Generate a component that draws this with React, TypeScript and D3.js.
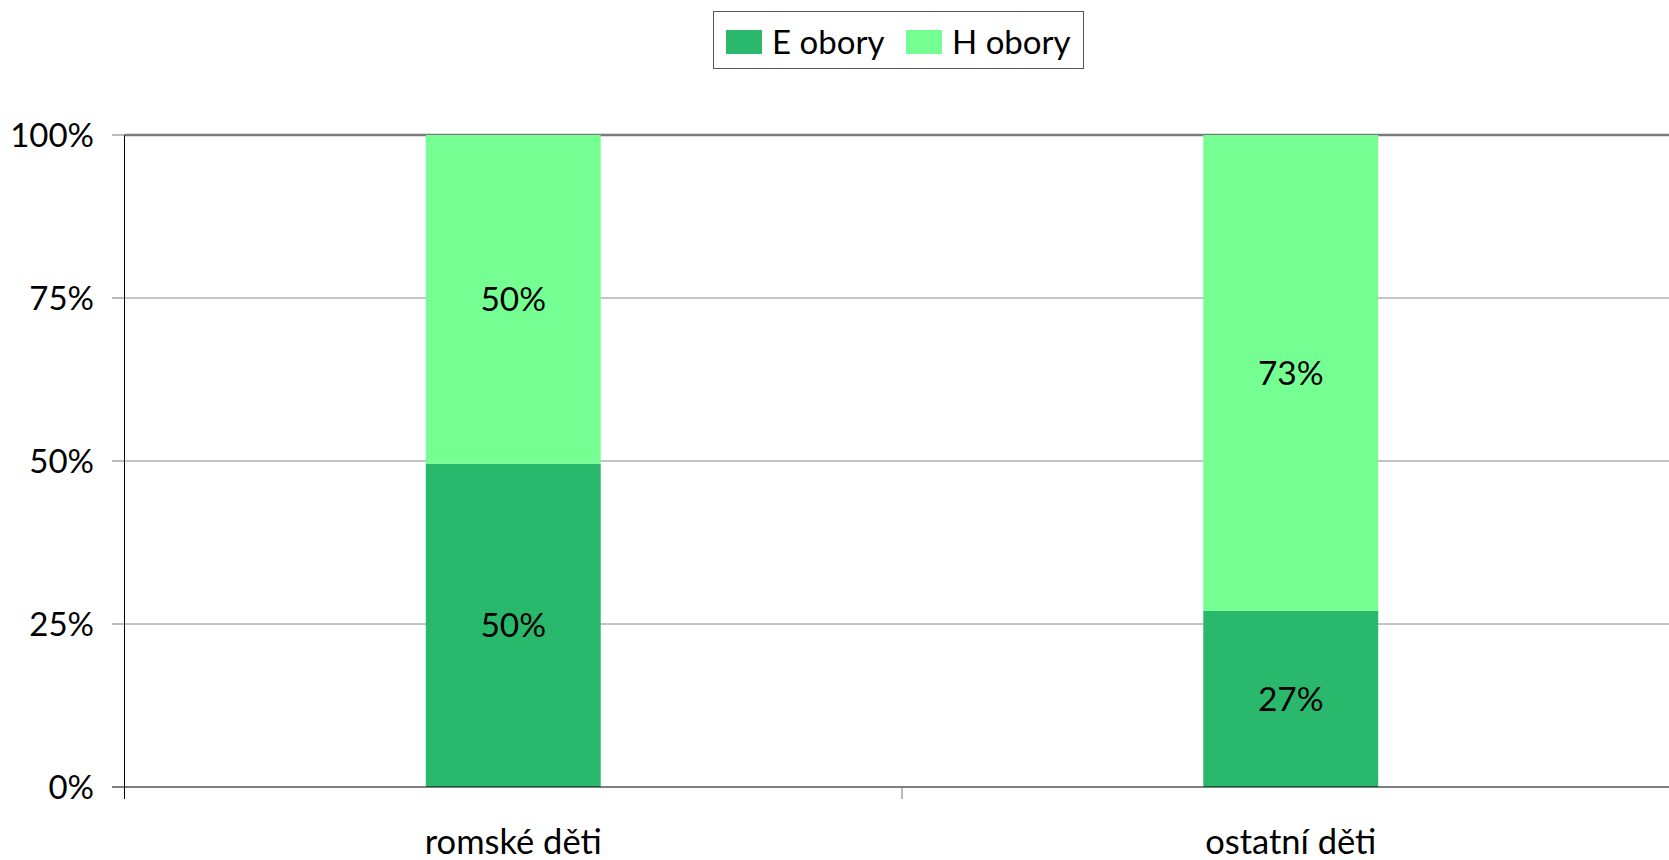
import React from "react";
import * as d3 from "d3";

const categories = ["romské děti", "ostatní děti"];
const seriesNames = ["E obory", "H obory"];
const eValues = [49.6, 27];
const hValues = [50.4, 73];
const yTicks = [0, 25, 50, 75, 100];
const colors = ["#2ab96c", "#75ff93"];

const W = 1669;
const H = 860;
const FONT = "Lato, 'Open Sans', sans-serif";

export default function App() {
  const left = 124.5;
  const top = 135;
  const bottom = 787;
  const x = d3.scaleBand<string>().domain(categories).range([left, left + 2 * 777.5]).padding(0);
  const y = d3.scaleLinear().domain([0, 100]).range([bottom, top]);
  const barW = x.bandwidth() * 0.225;

  const rows = categories.map((c, i) => ({ cat: c, E: eValues[i], H: hValues[i] }));
  const stack = d3.stack<any>().keys(["E", "H"]);
  const layers = stack(rows);

  return (
    <svg width={W} height={H} style={{ position: "absolute", left: 0, top: 0, background: "#fff" }} fontFamily={FONT}>
      {yTicks.filter((t) => t > 0).map((t) => (
        <line key={t} x1={left} x2={W} y1={y(t)} y2={y(t)} stroke={t === 100 ? "#7a7a7a" : "#888"} strokeWidth={t === 100 ? 2.5 : 1} />
      ))}
      {layers.map((layer, li) =>
        layer.map((d, i) => {
          const cx = (x(categories[i]) as number) + x.bandwidth() / 2;
          return (
            <rect key={li + "-" + i} x={cx - barW / 2} y={y(d[1])} width={barW} height={y(d[0]) - y(d[1])} fill={colors[li]} />
          );
        })
      )}
      {layers.map((layer, li) =>
        layer.map((d, i) => {
          const cx = (x(categories[i]) as number) + x.bandwidth() / 2;
          const cy = (y(d[0]) + y(d[1])) / 2;
          const v = Math.round(d[1] - d[0]);
          return (
            <text key={"l" + li + "-" + i} x={cx} y={cy} dy="0.35em" textAnchor="middle" fontSize={33.5} fill="#000">
              {v + "%"}
            </text>
          );
        })
      )}
      <line x1={left} x2={left} y1={top} y2={bottom + 12} stroke="#000" strokeWidth={1} />
      <line x1={left} x2={W} y1={bottom} y2={bottom} stroke="#000" strokeWidth={1.2} />
      {yTicks.map((t) => (
        <g key={"yt" + t}>
          <line x1={112} x2={left} y1={y(t)} y2={y(t)} stroke={t === 0 ? "#000" : "#777"} strokeWidth={1} />
          <text x={94} y={y(t)} dy="0.35em" textAnchor="end" fontSize={33} fill="#000">
            {t + "%"}
          </text>
        </g>
      ))}
      {categories.map((c, i) => (
        <g key={"c" + i}>
          {i > 0 && <line x1={x(c)} x2={x(c)} y1={bottom} y2={bottom + 12} stroke="#777" strokeWidth={1} />}
          <text x={(x(c) as number) + x.bandwidth() / 2} y={854} textAnchor="middle" fontSize={34.5} fill="#000">
            {c}
          </text>
        </g>
      ))}
      <rect x={713.5} y={11.5} width={370} height={57} fill="#fff" stroke="#555" strokeWidth={1} />
      {seriesNames.map((s, i) => {
        const sx = i === 0 ? 726 : 906;
        return (
          <g key={"lg" + i}>
            <rect x={sx} y={30} width={36} height={24} fill={colors[i]} />
            <text x={sx + 46} y={42} dy="0.35em" fontSize={33} fill="#000">
              {s}
            </text>
          </g>
        );
      })}
    </svg>
  );
}
